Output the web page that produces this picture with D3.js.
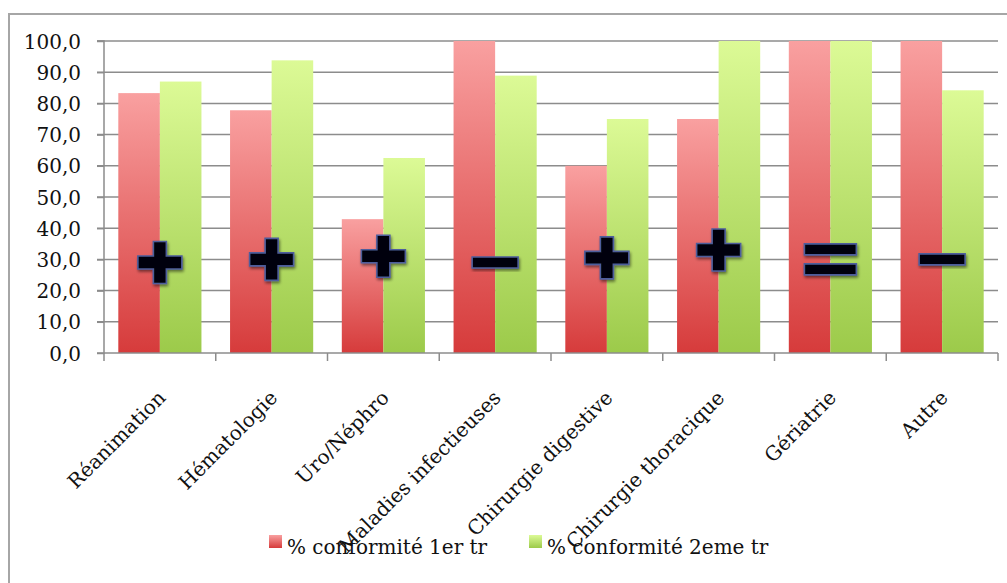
<!DOCTYPE html>
<html><head><meta charset="utf-8">
<script src="https://cdn.jsdelivr.net/npm/d3@7"></script>
<style>body{margin:0;background:#fff}svg{display:block}</style>
</head><body>
<svg id="c" width="1007" height="583"></svg>
<script>
const categories = ["Réanimation","Hématologie","Uro/Néphro","Maladies infectieuses","Chirurgie digestive","Chirurgie thoracique","Gériatrie","Autre"];
const seriesNames = ["% conformité 1er tr","% conformité 2eme tr"];
const tri1 = [83.3, 77.8, 42.9, 100, 60, 75, 100, 100];
const tri2 = [87.0, 93.8, 62.5, 88.9, 75, 100, 100, 84.2];
const yTicks = [0,10,20,30,40,50,60,70,80,90,100];
const symbols = ["+","+","+","-","+","+","=","-"];
const symbolLevel = [29, 30, 31, 29, 30.5, 33, 30, 30];

(function(){
const FONT = "'DejaVu Serif', serif";
const svg = d3.select("#c");
const defs = svg.append("defs");
function grad(id, c1, c2){
  const g = defs.append("linearGradient").attr("id",id).attr("x1",0).attr("y1",0).attr("x2",0).attr("y2",1);
  g.append("stop").attr("offset","0%").attr("stop-color",c1);
  g.append("stop").attr("offset","100%").attr("stop-color",c2);
}
grad("gRed","#f9a0a0","#d63b3b");
grad("gGreen","#dcfa96","#9cca4a");
const glow = defs.append("filter").attr("id","glow").attr("x","-30%").attr("y","-30%").attr("width","160%").attr("height","160%");
glow.append("feGaussianBlur").attr("in","SourceAlpha").attr("stdDeviation",1.5).attr("result","b");
glow.append("feOffset").attr("in","b").attr("dx",1).attr("dy",1.5).attr("result","o");
glow.append("feComponentTransfer").attr("in","o").attr("result","o2").append("feFuncA").attr("type","linear").attr("slope",0.5);
const mg = glow.append("feMerge"); mg.append("feMergeNode").attr("in","o2"); mg.append("feMergeNode").attr("in","SourceGraphic");

// outer frame
svg.append("rect").attr("x",9).attr("y",14).attr("width",1100).attr("height",700)
  .attr("fill","none").attr("stroke","#a6a6a6").attr("stroke-width",2);

const pL = 104, pR = 998, pT = 41, pB = 353;
const x0 = d3.scaleBand().domain(categories).range([pL, pR]).padding(0);
const bw = x0.bandwidth();
const x1 = d3.scaleBand().domain([0,1]).range([bw*0.128, bw*0.872]).padding(0);
const y = d3.scaleLinear().domain([0,100]).range([pB, pT]);

// gridlines
svg.append("g").selectAll("line").data(yTicks.filter(d=>d>0)).join("line")
  .attr("x1",pL-7).attr("x2",pR).attr("y1",d=>y(d)).attr("y2",d=>y(d))
  .attr("stroke","#8c8c8c").attr("stroke-width",1.5);

// y axis
const yAxis = d3.axisLeft(y).tickValues(yTicks).tickSize(7).tickPadding(16)
  .tickFormat(d=>d3.format(".1f")(d).replace(".",","));
const gy = svg.append("g").attr("transform",`translate(${pL},0)`).call(yAxis);
gy.selectAll("path,line").attr("stroke","#8c8c8c").attr("stroke-width",1.5);
gy.select("path").attr("d",`M-7,${pT}H0V${pB}H-7`);
gy.selectAll("text").attr("font-family",FONT).attr("font-size",20).attr("fill","#111").attr("dy","0.35em");

// bars
const data = categories.map((c,i)=>({c, v:[tri1[i],tri2[i]]}));
const groups = svg.append("g").selectAll("g").data(data).join("g")
  .attr("transform",d=>`translate(${x0(d.c)},0)`);
groups.selectAll("rect").data(d=>d.v.map((v,k)=>({v,k}))).join("rect")
  .attr("x",d=>x1(d.k)).attr("width",x1.bandwidth())
  .attr("y",d=>y(d.v)).attr("height",d=>y(0)-y(d.v))
  .attr("fill",d=>d.k===0?"url(#gRed)":"url(#gGreen)");

// x axis
const xAxis = d3.axisBottom(x0).tickSize(0).tickFormat("");
const gx = svg.append("g").attr("transform",`translate(0,${pB})`).call(xAxis);
gx.select("path").attr("stroke","#8c8c8c").attr("stroke-width",1.5).attr("d",`M${pL},0H${pR}`);
gx.selectAll(".tick").remove();
const sepTicks = d3.range(categories.length+1).map(i=> i<categories.length ? x0(categories[i]) : pR);
gx.selectAll("line.sep").data(sepTicks).join("line").attr("class","sep")
  .attr("x1",d=>d).attr("x2",d=>d).attr("y1",0).attr("y2",8)
  .attr("stroke","#8c8c8c").attr("stroke-width",1.5);
svg.append("g").selectAll("text").data(categories).join("text")
  .attr("transform",d=>`translate(${x0(d)+bw/2+7},${pB+46}) rotate(-45)`)
  .attr("text-anchor","end").attr("font-family",FONT).attr("font-size",20).attr("fill","#111")
  .text(d=>d);

// symbols
function symPath(t){
  if(t==="+"){ const a=22,h=21,w=6.5; return `M${-w},${-h}H${w}V${-w}H${a}V${w}H${w}V${h}H${-w}V${w}H${-a}V${-w}H${-w}Z`; }
  if(t==="-"){ return `M-23,-5.5H23V5.5H-23Z`; }
  return `M-26,-15.5H26V-4.5H-26Z M-26,4.5H26V15.5H-26Z`;
}
svg.append("g").selectAll("path").data(symbols.map((s,i)=>({s,c:categories[i],lvl:symbolLevel[i]}))).join("path")
  .attr("transform",d=>`translate(${x0(d.c)+bw/2},${y(d.lvl)})`)
  .attr("d",d=>symPath(d.s))
  .attr("fill","#05050c").attr("stroke","#4d5d9c").attr("stroke-width",1.6)
  .attr("filter","url(#glow)");

// legend
const legend = svg.append("g");
const legX = [269, 529];
const legColors = ["url(#gRed)","url(#gGreen)"];
seriesNames.forEach((n,i)=>{
  legend.append("rect").attr("x",legX[i]).attr("y",535).attr("width",13).attr("height",13).attr("fill",legColors[i]);
  legend.append("text").attr("x",legX[i]+18).attr("y",554).attr("font-family",FONT).attr("font-size",20).attr("fill","#111").text(n);
});
})();
</script>
</body></html>
